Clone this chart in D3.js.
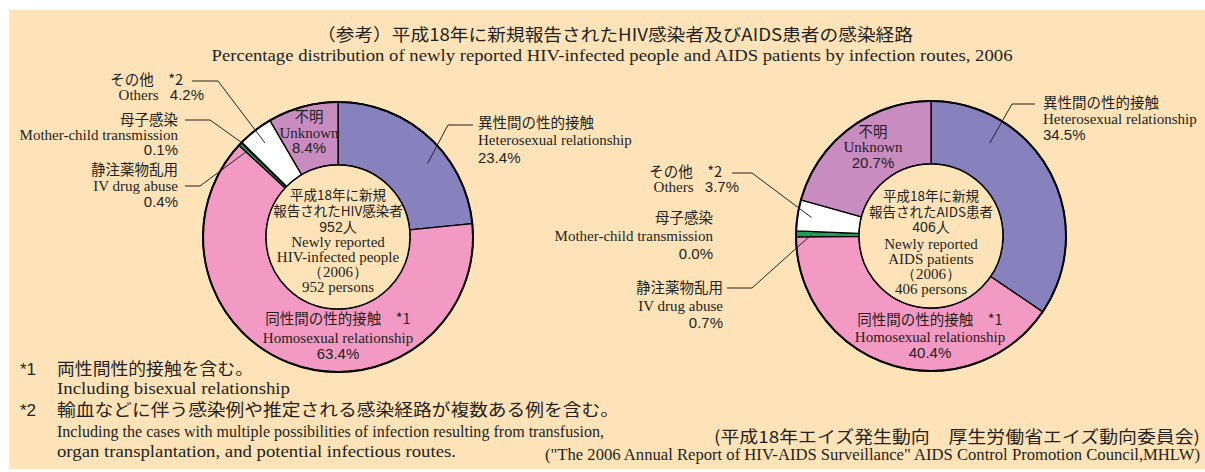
<!DOCTYPE html>
<html>
<head>
<meta charset="utf-8">
<script src="https://cdn.jsdelivr.net/npm/d3@7"></script>
<style>
  body { margin: 0; background: #fff; }
  svg { display: block; }
</style>
</head>
<body>
<svg></svg>
<script>
// infection routes, in the order the slices run clockwise from 12 o'clock
const routes = ['hetero', 'homo', 'iv', 'mother', 'others', 'unknown'];
const routeColors = ['#8781be', '#f29ac4', '#1d9f55', '#1d9f55', '#ffffff', '#c98cc1'];
const labelsJa = ['異性間の性的接触', '同性間の性的接触　*1', '静注薬物乱用', '母子感染', 'その他　*2', '不明'];
const labelsEn = ['Heterosexual relationship', 'Homosexual relationship', 'IV drug abuse', 'Mother-child transmission', 'Others', 'Unknown'];

const hivShares = [23.4, 63.4, 0.4, 0.1, 4.2, 8.4];
const aidsShares = [34.5, 40.4, 0.7, 0.0, 3.7, 20.7];

const hivCenter = ['平成18年に新規', '報告されたHIV感染者', '952人', 'Newly reported', 'HIV-infected people', '（2006）', '952 persons'];
const aidsCenter = ['平成18年に新規', '報告されたAIDS患者', '406人', 'Newly reported', 'AIDS patients', '（2006）', '406 persons'];

const titleJa = '（参考）平成18年に新規報告されたHIV感染者及びAIDS患者の感染経路';
const titleEn = 'Percentage distribution of newly reported HIV-infected people and AIDS patients by infection routes, 2006';
const notes = [
  ['*1', '両性間性的接触を含む。', 'Including bisexual relationship'],
  ['*2', '輸血などに伴う感染例や推定される感染経路が複数ある例を含む。',
    'Including the cases with multiple possibilities of infection resulting from transfusion,',
    'organ transplantation, and potential infectious routes.'],
];
const sourceJa = '(平成18年エイズ発生動向　厚生労働省エイズ動向委員会)';
const sourceEn = '("The 2006 Annual Report of HIV-AIDS Surveillance" AIDS Control Promotion Council,MHLW)';

const W = 1205;
const H = 472;
const bg = '#fee3b9';
const ink = '#231f20';
const sansJa = '"Noto Sans CJK JP", sans-serif';
const serifEn = '"Liberation Serif", "Times New Roman", serif';
const sansEn = '"Liberation Sans", Arial, sans-serif';
const pct = v => d3.format('.1f')(v) + '%';

const svg = d3.select('svg')
  .attr('width', W)
  .attr('height', H);

svg.append('rect')
  .attr('x', 9).attr('y', 10)
  .attr('width', W - 9).attr('height', 459)
  .attr('fill', bg);

const addText = (g, x, y, str, font, size, anchor, len) => {
  const t = g.append('text')
    .attr('x', x)
    .attr('y', y)
    .attr('font-family', font)
    .attr('font-size', size)
    .attr('fill', ink)
    .attr('text-anchor', anchor || 'start')
    .text(str);
  if (len) {
    t.attr('textLength', len).attr('lengthAdjust', 'spacingAndGlyphs');
  }
  return t;
};

// titles
addText(svg, 615, 41, titleJa, sansJa, 17, 'middle', 596);
addText(svg, 612, 61, titleEn, serifEn, 17, 'middle', 801);

// label layout per chart: x, anchor, baselines of the ja / en / pct lines, leader
const hivLayout = {
  hetero: { x: 478, anchor: 'start', y: [128, 145, 163], leader: [[473, 125], [448, 125]], at: 0.6, r: 116 },
  homo: { x: 338, anchor: 'middle', y: [324, 343, 359] },
  iv: { x: 178, anchor: 'end', y: [175, 191, 207], leader: [[185, 186], [200, 186]], at: 0.5, r: 125 },
  mother: { x: 178, anchor: 'end', y: [125, 140, 155], leader: [[185, 120], [210, 120]], at: 0.5, r: 135 },
  others: { x: 183, x2: 204, anchor: 'end', y: [85, 100], leader: [[192, 81], [218, 81]], at: 0.5, r: 119 },
  unknown: { x: 309, anchor: 'middle', y: [122, 138, 153] },
};
const aidsLayout = {
  hetero: { x: 1043, anchor: 'start', y: [108, 124, 140], leader: [[1035, 104], [1012, 104]], at: 0.26, r: 110 },
  homo: { x: 930, anchor: 'middle', y: [325, 342, 358] },
  iv: { x: 723, anchor: 'end', y: [293, 311, 328], leader: [[727, 288], [752, 288]], at: 0.5, r: 119 },
  mother: { x: 713, anchor: 'end', y: [223, 241, 259] },
  others: { x: 722, x2: 739, anchor: 'end', y: [177, 192], leader: [[732, 173], [752, 173]], at: 0.5, r: 121 },
  unknown: { x: 873, anchor: 'middle', y: [137, 152, 168] },
};

const pie = d3.pie().sort(null).value(d => d);

const drawDonut = (shares, cx, cy, layout, center, centerY) => {
  const outer = 135;
  const inner = 72;
  const arc = d3.arc().innerRadius(inner).outerRadius(outer);
  const slices = pie(shares);
  const g = svg.append('g').attr('transform', `translate(${cx},${cy})`);

  g.selectAll('path')
    .data(slices.filter(d => d.value > 0))
    .enter().append('path')
    .attr('d', arc)
    .attr('fill', d => routeColors[d.index])
    .attr('stroke', '#000')
    .attr('stroke-width', 1.3)
    .attr('stroke-linejoin', 'round');

  g.append('circle')
    .attr('r', outer)
    .attr('fill', 'none')
    .attr('stroke', '#000')
    .attr('stroke-width', 2);

  g.append('circle')
    .attr('r', inner)
    .attr('fill', bg)
    .attr('stroke', '#000')
    .attr('stroke-width', 1.5);

  // leader lines, ending inside their slice
  const line = d3.line();
  slices.forEach(d => {
    const l = layout[routes[d.index]];
    if (!l.leader) return;
    const a = d.startAngle + (d.endAngle - d.startAngle) * l.at;
    const p = d3.pointRadial(a, l.r);
    svg.append('path')
      .attr('d', line(l.leader.concat([[cx + p[0], cy + p[1]]])))
      .attr('fill', 'none')
      .attr('stroke', ink)
      .attr('stroke-width', 1);
  });

  // slice labels
  slices.forEach(d => {
    const key = routes[d.index];
    const l = layout[key];
    addText(svg, l.x, l.y[0], labelsJa[d.index], sansJa, 14.5, l.anchor);
    if (key === 'others') {
      const t = addText(svg, l.x2, l.y[1], '', serifEn, 15, l.anchor);
      t.append('tspan').text(labelsEn[d.index] + '\u00a0\u00a0 ');
      t.append('tspan').attr('font-family', sansEn).text(pct(d.value));
    } else {
      addText(svg, l.x, l.y[1], labelsEn[d.index], serifEn, 15, l.anchor);
      addText(svg, l.x, l.y[2], pct(d.value), sansEn, 15, l.anchor);
    }
  });

  // hole text
  center.forEach((s, i) => {
    const font = i < 2 ? sansJa : i === 2 ? sansEn : serifEn;
    addText(svg, cx, centerY[i], s, font, i < 2 ? 13.5 : i === 2 ? 14 : 15, 'middle');
  });
};

drawDonut(hivShares, 338, 237, hivLayout, hivCenter, [200, 216, 232, 247, 262, 277, 292]);
drawDonut(aidsShares, 931, 236, aidsLayout, aidsCenter, [201, 217, 232, 249, 264, 279, 294]);

// footnotes
const noteY = [[375, 394], [416, 437, 457]];
const noteLen = [[196, 233], [562, 547, 399]];
notes.forEach((n, i) => {
  addText(svg, 20, noteY[i][0], n[0], sansEn, 17);
  addText(svg, 57, noteY[i][0], n[1], sansJa, 16.5, 'start', noteLen[i][0]);
  n.slice(2).forEach((s, j) => {
    addText(svg, 57, noteY[i][j + 1], s, serifEn, 17, 'start', noteLen[i][j + 1]);
  });
});

// source
addText(svg, 1200, 443, sourceJa, sansJa, 16.5, 'end', 486);
addText(svg, 1200, 460, sourceEn, serifEn, 16, 'end', 655);
</script>
</body>
</html>
